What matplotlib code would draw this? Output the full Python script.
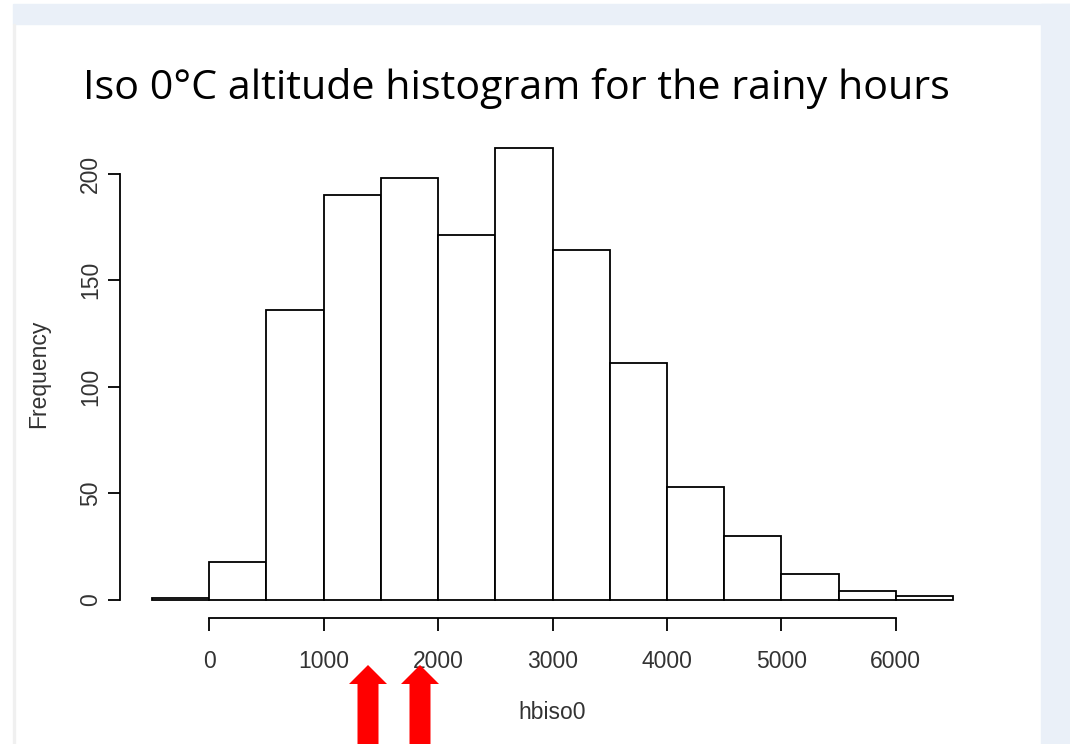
import matplotlib
matplotlib.use("Agg")
import matplotlib.pyplot as plt
from matplotlib.patches import Rectangle, FancyArrow

# histogram of hbiso0: bins of 500 m
bin_left = [-500, 0, 500, 1000, 1500, 2000, 2500, 3000, 3500, 4000, 4500, 5000, 5500, 6000]
counts = [1, 18, 136, 190, 198, 171, 212, 164, 111, 53, 30, 12, 4, 2]
bin_width = 500
x_ticks = [0, 1000, 2000, 3000, 4000, 5000, 6000]
y_ticks = [0, 50, 100, 150, 200]
arrow_x = [368, 420]  # pixel positions of the red arrows

W, H = 1070, 744
fig = plt.figure(figsize=(W / 100, H / 100), dpi=100)
fig.patch.set_facecolor("white")

# slide frame: light blue band on top and right, faint line on the left
blue = "#eaf0f8"
fig.patches.append(Rectangle((13 / W, 1 - 24 / H), (W - 13) / W, 20 / H,
                             transform=fig.transFigure, color=blue, zorder=0))
fig.patches.append(Rectangle((1041 / W, 0), (W - 1041) / W, 1 - 4 / H,
                             transform=fig.transFigure, color=blue, zorder=0))
fig.patches.append(Rectangle((13 / W, 0), 1.5 / W, 1 - 24 / H,
                             transform=fig.transFigure, color="#f0f0f0", zorder=0))

fig.text(516 / W, 1 - 99 / H, "Iso 0°C altitude histogram for the rainy hours",
         ha="center", va="baseline", fontsize=29.7, family="Open Sans",
         color="black")

ax = fig.add_axes([120 / W, 1 - 618 / H, 865 / W, 488 / H])
ax.bar(bin_left, counts, width=bin_width, align="edge",
       facecolor="white", edgecolor="black", linewidth=1.3)

ax.set_xlim(-780, 6780)
ax.set_ylim(-8.5, 220.5)
for s in ["top", "right"]:
    ax.spines[s].set_visible(False)
ax.spines["left"].set_bounds(0, 200)
ax.spines["bottom"].set_bounds(0, 6000)
for s in ["left", "bottom"]:
    ax.spines[s].set_linewidth(1.3)

ax.set_xticks(x_ticks)
ax.set_yticks(y_ticks)
ax.set_yticklabels([str(v) for v in y_ticks], rotation=90, va="center")
ax.tick_params(direction="out", length=9, width=1.3, labelsize=16.5,
               labelcolor="#333333")
ax.tick_params(axis="x", pad=14)
ax.tick_params(axis="y", pad=4)
for lab in ax.get_xticklabels() + ax.get_yticklabels():
    lab.set_family("Liberation Sans")

ax.set_xlabel("hbiso0", fontsize=16.5, family="Liberation Sans",
              color="#333333", labelpad=20)
ax.set_ylabel("Frequency", fontsize=16.5, family="Liberation Sans",
              color="#333333", labelpad=21)

# red arrows pointing up at the x axis
for xp in arrow_x:
    fig.patches.append(FancyArrow(xp / W, 0, 0, 1 - 665 / H, width=21 / W,
                                  head_width=38 / W, head_length=19 / H,
                                  length_includes_head=True,
                                  transform=fig.transFigure, color="#ff0000",
                                  linewidth=0, zorder=5))

fig.savefig("out.png", dpi=100)
